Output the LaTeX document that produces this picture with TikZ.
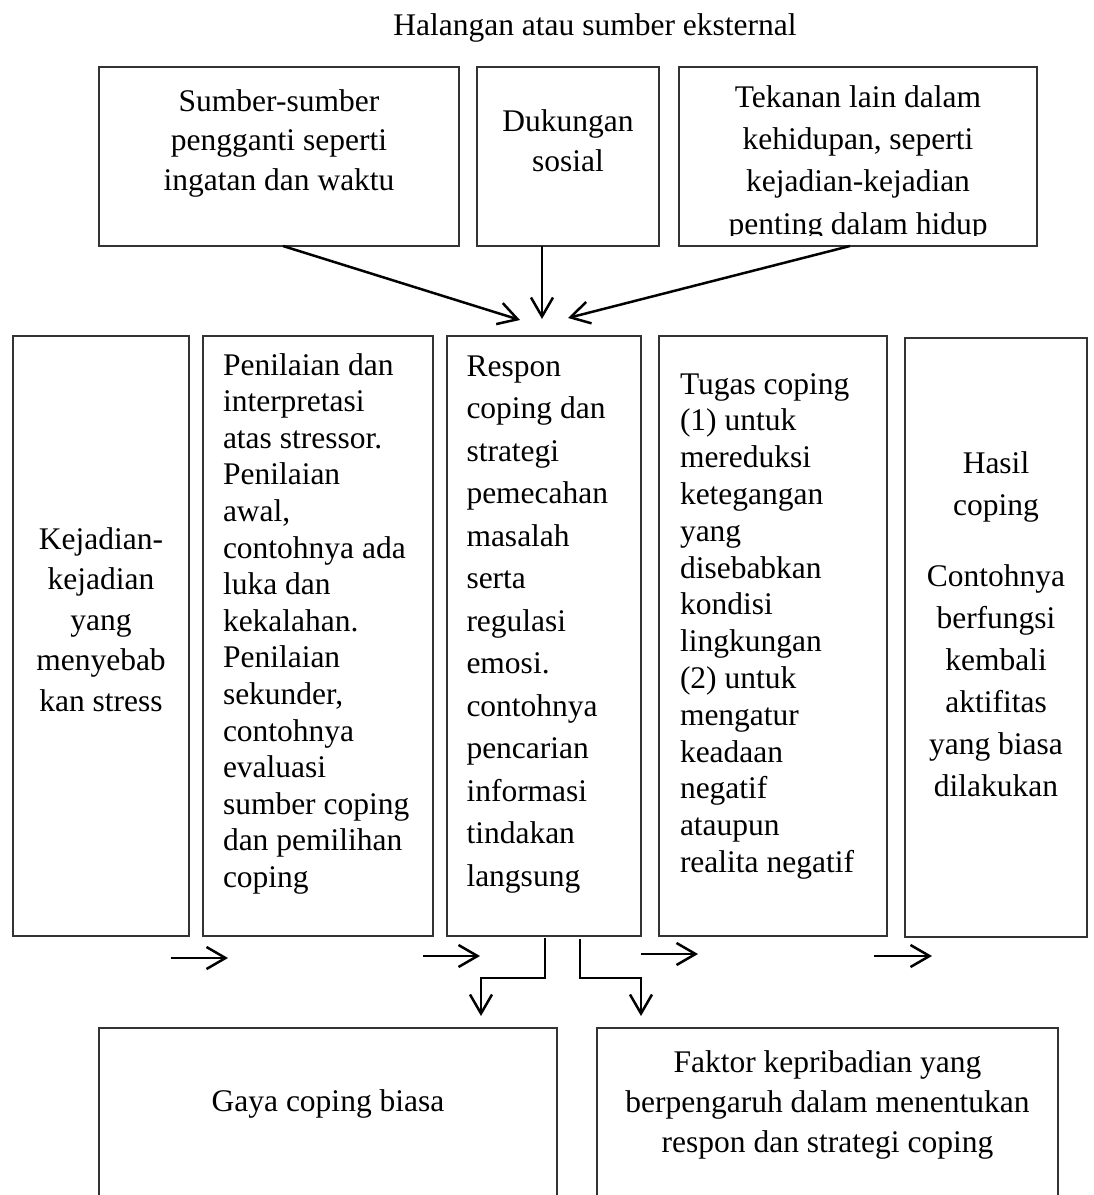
\documentclass[tikz,border=0pt]{standalone}
\usepackage{fontspec}
\setmainfont{Liberation Serif}
\usetikzlibrary{arrows.meta}
\begin{document}
\begin{tikzpicture}[x=1pt,y=-1pt,
  box/.style={draw=black!80, line width=1.3pt, inner sep=0pt, outer sep=0pt, anchor=north west},
  conn/.style={line width=2.5pt, line join=miter, -{Straight Barb[length=19pt,width=22pt]}},
  tl/.style={inner sep=0pt, outer sep=0pt, anchor=north west, align=left},
  tc/.style={inner sep=0pt, outer sep=0pt, anchor=north, align=center},
  fs/.style={font=\fontsize{31.5}{#1}\selectfont},
]
\useasboundingbox (0,0) rectangle (1094,1195);
\clip (0,0) rectangle (1094,1195);

% title
\node[tc, fs=36] (title) at (595,9) {\rule{0pt}{26pt}Halangan atau sumber eksternal};

% top boxes
\node[box, minimum width=360pt, minimum height=179pt] (srcA) at (99,67) {};
\node[box, minimum width=182pt, minimum height=179pt] (srcB) at (477,67) {};
\node[box, minimum width=358pt, minimum height=179pt] (srcC) at (679,67) {};
\node[tc, fs=39.5] (srcAt) at (279,85) {\rule{0pt}{26pt}Sumber-sumber\\pengganti seperti\\ingatan dan waktu};
\node[tc, fs=40] (srcBt) at (568,105) {\rule{0pt}{26pt}Dukungan\\sosial};
\begin{scope}
  \clip (679,67) rectangle (1037,235);
  \node[tc, fs=42.4] (srcCt) at (858,81) {\rule{0pt}{26pt}Tekanan lain dalam\\kehidupan, seperti\\kejadian-kejadian\\penting dalam hidup};
\end{scope}

% middle boxes
\node[box, minimum width=176pt, minimum height=600pt] (k1) at (13,336) {};
\node[box, minimum width=230pt, minimum height=600pt] (k2) at (203,336) {};
\node[box, minimum width=194pt, minimum height=600pt] (k3) at (447,336) {};
\node[box, minimum width=228pt, minimum height=600pt] (k4) at (659,336) {};
\node[box, minimum width=182pt, minimum height=599pt] (k5) at (905,338) {};

\node[tc, fs=40.5] (k1t) at (101,523) {\rule{0pt}{26pt}Kejadian-\\kejadian\\yang\\menyebab\\kan stress};
\node[tl, fs=36.6] (k2t) at (223,349) {\rule{0pt}{26pt}Penilaian dan\\interpretasi\\atas stressor.\\Penilaian\\awal,\\contohnya ada\\luka dan\\kekalahan.\\Penilaian\\sekunder,\\contohnya\\evaluasi\\sumber coping\\dan pemilihan\\coping};
\node[tl, fs=42.5] (k3t) at (466.5,350) {\rule{0pt}{26pt}Respon\\coping dan\\strategi\\pemecahan\\masalah\\serta\\regulasi\\emosi.\\contohnya\\pencarian\\informasi\\tindakan\\langsung};
\node[tl, fs=36.8] (k4t) at (680,368) {\rule{0pt}{26pt}Tugas coping\\(1) untuk\\mereduksi\\ketegangan\\yang\\disebabkan\\kondisi\\lingkungan\\(2) untuk\\mengatur\\keadaan\\negatif\\ataupun\\realita negatif};
\node[tc, fs=42] (k5t) at (996,447) {\rule{0pt}{26pt}Hasil\\coping\\[29pt]Contohnya\\berfungsi\\kembali\\aktifitas\\yang biasa\\dilakukan};

% bottom boxes (open at the bottom edge)
\node[box, minimum width=458pt, minimum height=220pt] (gaya) at (99,1028) {};
\node[box, minimum width=461pt, minimum height=220pt] (fakt) at (597,1028) {};
\node[tc, fs=40] (gayat) at (328,1085) {\rule{0pt}{26pt}Gaya coping biasa};
\node[tc, fs=40] (faktt) at (827.5,1046) {\rule{0pt}{26pt}Faktor kepribadian yang\\berpengaruh dalam menentukan\\respon dan strategi coping};

% top connectors
\coordinate (tipA) at (520,320);
\coordinate (tipB) at (542,319);
\coordinate (tipC) at (568,318);
\draw[conn] ([xshift=4pt]srcA.south) -- (tipA);
\draw[conn] ([xshift=-26pt]srcB.south) -- (tipB);
\draw[conn] ([xshift=-8pt]srcC.south) -- (tipC);

% horizontal arrows below the middle row
\coordinate (a1s) at (171,958); \coordinate (a1e) at (228,958);
\coordinate (a2s) at (423,956); \coordinate (a2e) at (480,956);
\coordinate (a3s) at (641,954); \coordinate (a3e) at (698,954);
\coordinate (a4s) at (874,956); \coordinate (a4e) at (932,956);
\draw[conn] (a1s) -- (a1e);
\draw[conn] (a2s) -- (a2e);
\draw[conn] (a3s) -- (a3e);
\draw[conn] (a4s) -- (a4e);

% elbow connectors
\coordinate (gtip) at (481,1016);
\coordinate (ftip) at (641,1016);
\draw[conn] ([xshift=1pt,yshift=-2pt]k3.south) -- ++(0,40) -| (gtip);
\draw[conn] ([xshift=36pt,yshift=-3pt]k3.south) -- ++(0,39) -| (ftip);
\end{tikzpicture}
\end{document}
